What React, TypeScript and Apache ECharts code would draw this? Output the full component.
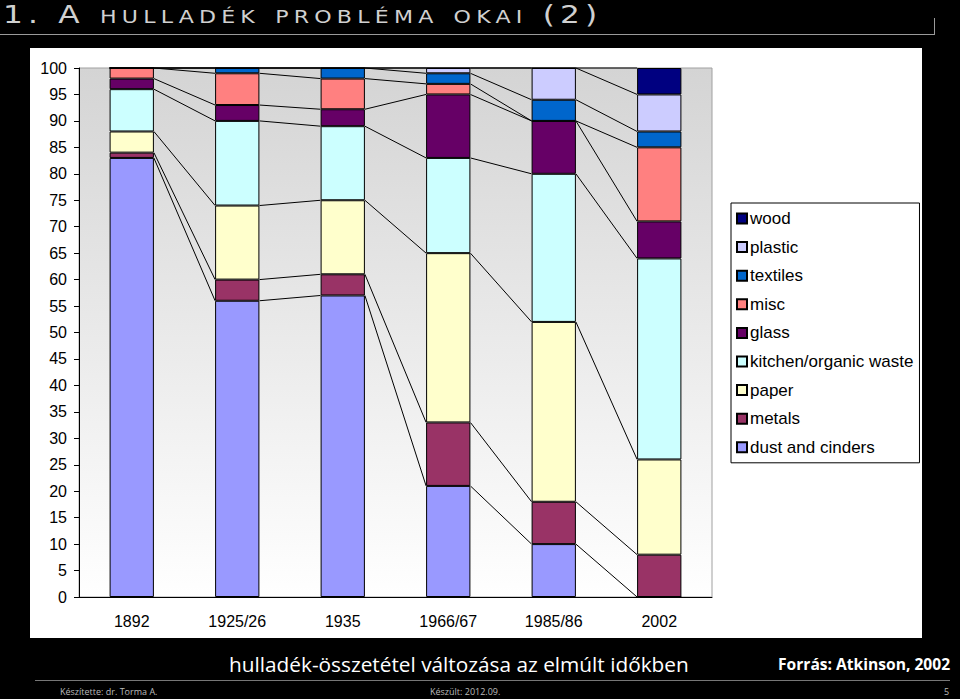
import { useEffect, useRef } from 'react';
import * as echarts from 'echarts';

const categories = ['1892', '1925/26', '1935', '1966/67', '1985/86', '2002'];

// bottom to top, in stacking order
const seriesNames = [
  'dust and cinders',
  'metals',
  'paper',
  'kitchen/organic waste',
  'glass',
  'misc',
  'textiles',
  'plastic',
  'wood',
];
const dust = [83, 56, 57, 21, 10, 0];
const metals = [1, 4, 4, 12, 8, 8];
const paper = [4, 14, 14, 32, 34, 18];
const kitchen = [8, 16, 14, 18, 28, 38];
const glass = [2, 3, 3.2, 12, 10, 7];
const misc = [2, 6, 5.8, 2, 0, 14];
const textiles = [0, 1, 2, 2, 4, 3];
const plastic = [0, 0, 0, 1, 6, 7];
const wood = [0, 0, 0, 0, 0, 5];
const seriesValues = [dust, metals, paper, kitchen, glass, misc, textiles, plastic, wood];
const seriesColors = ['#9999ff', '#993366', '#ffffcc', '#ccffff', '#660066', '#ff8080', '#0066cc', '#ccccff', '#000080'];

const BAR_RATIO = 0.42;
const FONT = '"Liberation Sans", Arial, sans-serif';

// top of series s in category i
const stackTop = (s: number, i: number) => {
  let sum = 0;
  for (let k = 0; k <= s; k++) sum += seriesValues[k][i];
  return sum;
};

function WasteChart() {
  const chartRef = useRef<HTMLDivElement>(null);

  useEffect(() => {
    if (!chartRef.current) return;
    const chart = echarts.init(chartRef.current, undefined, { renderer: 'svg' });

    const bars = seriesNames.map((name, s) => ({
      name,
      type: 'bar' as const,
      stack: 'total',
      barWidth: `${BAR_RATIO * 100}%`,
      data: seriesValues[s],
      itemStyle: { color: seriesColors[s], borderColor: '#000', borderWidth: 1 },
      z: 3,
    }));

    // Excel-style series lines between neighbouring bars
    const seriesLines = {
      type: 'custom' as const,
      name: 'series lines',
      data: categories.slice(0, -1).map((_, i) => [i, 0]),
      encode: { x: 0, y: 1 },
      z: 2,
      silent: true,
      renderItem: (_params: any, api: any) => {
        const i = api.value(0);
        const half = (api.size([1, 0])[0] * BAR_RATIO) / 2;
        return {
          type: 'group',
          children: seriesNames.map((_n, s) => {
            const p1 = api.coord([i, stackTop(s, i)]);
            const p2 = api.coord([i + 1, stackTop(s, i + 1)]);
            return {
              type: 'line',
              shape: { x1: p1[0] + half, y1: p1[1], x2: p2[0] - half, y2: p2[1] },
              style: { stroke: '#000', lineWidth: 1 },
            };
          }),
        };
      },
    };

    const option: echarts.EChartsOption = {
      animation: false,
      backgroundColor: '#fff',
      textStyle: { fontFamily: FONT },
      grid: {
        left: 49,
        right: 210,
        top: 20,
        bottom: 41,
        show: true,
        borderColor: '#a0a0a0',
        borderWidth: 1,
        backgroundColor: new echarts.graphic.LinearGradient(0, 0, 0, 1, [
          { offset: 0, color: '#d4d4d4' },
          { offset: 1, color: '#ffffff' },
        ]),
      },
      legend: {
        data: [...seriesNames].reverse(),
        orient: 'vertical',
        left: 701,
        top: 155,
        icon: 'rect',
        itemWidth: 10,
        itemHeight: 10,
        itemGap: 11.6,
        padding: [7, 6, 7, 5],
        backgroundColor: '#fff',
        borderColor: '#000',
        borderWidth: 1,
        borderRadius: 0,
        textStyle: { color: '#000', fontSize: 17, fontFamily: FONT, padding: [0, 0, 0, -2] },
      },
      xAxis: {
        type: 'category',
        data: categories,
        axisLine: { lineStyle: { color: '#000', width: 1 } },
        axisTick: { lineStyle: { color: '#000' }, length: 5 },
        axisLabel: { color: '#000', fontSize: 16, margin: 16, fontFamily: FONT },
      },
      yAxis: {
        type: 'value',
        min: 0,
        max: 100,
        interval: 5,
        splitLine: { show: false },
        axisLine: { show: true, lineStyle: { color: '#000', width: 1 } },
        axisTick: { show: true, lineStyle: { color: '#000' }, length: 5 },
        axisLabel: { color: '#000', fontSize: 16, margin: 12, fontFamily: FONT },
      },
      series: [...bars, seriesLines] as any,
    };

    chart.setOption(option);
    return () => chart.dispose();
  }, []);

  return <div ref={chartRef} style={{ position: 'absolute', left: 30, top: 48, width: 892, height: 590 }} />;
}

export default function App() {
  return (
    <div
      style={{
        position: 'fixed',
        left: 0,
        top: 0,
        width: 960,
        height: 699,
        background: '#000',
        overflow: 'hidden',
      }}
    >
      <div
        style={{
          position: 'absolute',
          left: 3,
          top: 0,
          color: '#d0d0d0',
          fontFamily: '"DejaVu Sans", sans-serif',
          fontVariant: 'small-caps',
          fontSize: 24,
          letterSpacing: 4,
          lineHeight: '30px',
          whiteSpace: 'nowrap',
          transform: 'scaleX(1.3)',
          transformOrigin: 'left top',
        }}
      >
        1. A hulladék probléma okai (2)
      </div>
      <div style={{ position: 'absolute', left: 0, top: 34, width: 935, height: 1, background: '#9a9a9a' }} />
      <div style={{ position: 'absolute', left: 934, top: 18, width: 1, height: 17, background: '#9a9a9a' }} />

      <WasteChart />

      <div
        style={{
          position: 'absolute',
          left: 229,
          top: 650,
          color: '#fff',
          fontFamily: '"Open Sans", sans-serif',
          fontSize: 20.8,
          lineHeight: '28px',
          whiteSpace: 'nowrap',
        }}
      >
        hulladék-összetétel változása az elmúlt időkben
      </div>
      <div
        style={{
          position: 'absolute',
          left: 778,
          top: 653,
          color: '#fff',
          fontFamily: '"Open Sans", sans-serif',
          fontWeight: 'bold',
          fontSize: 15.6,
          lineHeight: '22px',
          whiteSpace: 'nowrap',
        }}
      >
        Forrás: Atkinson, 2002
      </div>
      <div style={{ position: 'absolute', left: 35, top: 680, width: 915, height: 1, background: '#777' }} />
      <div
        style={{
          position: 'absolute',
          left: 60,
          top: 685,
          color: '#bbb',
          fontFamily: '"Open Sans", sans-serif',
          fontSize: 9,
          lineHeight: '13px',
          whiteSpace: 'nowrap',
        }}
      >
        Készítette: dr. Torma A.
      </div>
      <div
        style={{
          position: 'absolute',
          left: 430,
          top: 685,
          color: '#bbb',
          fontFamily: '"Open Sans", sans-serif',
          fontSize: 9,
          lineHeight: '13px',
          whiteSpace: 'nowrap',
        }}
      >
        Készült: 2012.09.
      </div>
      <div
        style={{
          position: 'absolute',
          left: 944,
          top: 685,
          color: '#bbb',
          fontFamily: '"Open Sans", sans-serif',
          fontSize: 9,
          lineHeight: '13px',
        }}
      >
        5
      </div>
    </div>
  );
}
